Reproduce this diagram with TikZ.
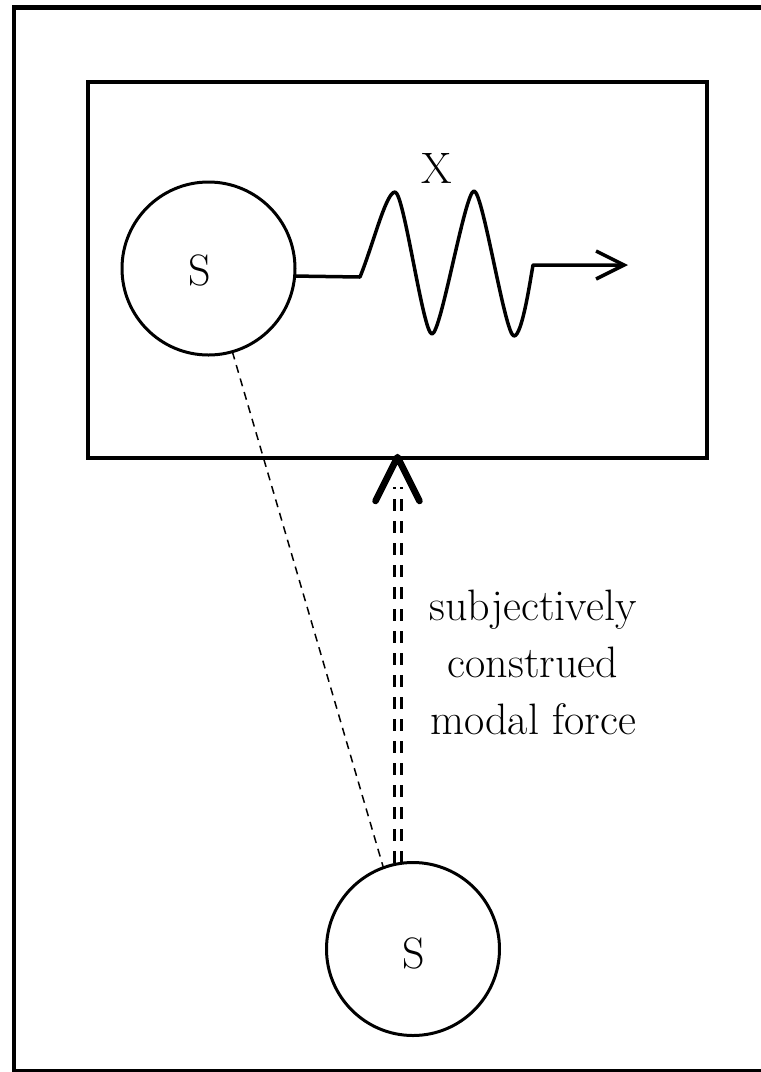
\documentclass[tikz,border=0pt]{standalone}
\usetikzlibrary{arrows.meta,calc}
\begin{document}
\begin{tikzpicture}[x=1pt,y=-1pt,
  frame/.style={line width=4.5pt},
  boxstyle/.style={draw,line width=4pt,minimum width=619pt,minimum height=376pt,inner sep=0pt,outer sep=0pt},
  circ/.style={circle,draw,line width=3pt,minimum size=173pt,inner sep=0pt,outer sep=0pt},
  lbl/.style={inner sep=0pt,font=\fontsize{44}{57}\selectfont},
  wave/.style={line width=3.5pt,line join=round},
  thindash/.style={line width=1.5pt,dash pattern=on 8pt off 6pt},
  dbldash/.style={line width=3pt,dash pattern=on 12pt off 10pt},
  chevron/.style={line width=6.5pt,line join=round,line cap=round}]
\clip (0,0) rectangle (761,1072);
\draw[frame] (14,7.5) rectangle (800,1071.5);
\node[boxstyle] (box) at (397.5,270) {};
\node[circ] (s1) at (208.5,268.5) {};
\node[lbl] (s1l) at (200,270) {S};
\node[circ] (s2) at (413,949) {};
\node[lbl] (s2l) at (414,953) {S};
\node[lbl] (x) at (437,168) {X};
\node[lbl,align=center] (txt) at (533,662) {subjectively\\construed\\modal force};
% wave
\coordinate (w0) at (360,277);
\coordinate (p1) at (395,192);
\coordinate (t1) at (432,334);
\coordinate (p2) at (474,191);
\coordinate (t2) at (514,336);
\coordinate (w5) at (533,265);
\coordinate (wend) at (628,265);
\draw[wave,-{Straight Barb[length=28pt,width=28pt]}] (s1.-5) -- (w0)
  .. controls (373,245) and (386,192) .. (p1)
  .. controls (404,192) and (423,334) .. (t1)
  .. controls (441,334) and (465,191) .. (p2)
  .. controls (483,191) and (505,336) .. (t2)
  .. controls (522,336) and (530,282) .. (w5) -- (wend);
% thin dashed line
\draw[thindash] (s1.-74) -- (s2.110);
% double dashed arrow
\coordinate (tip) at ($(box.south)+(0,-1)$);
\draw[dbldash] ($(s2.north -| box.south)+(-3.5,0)$) -- ($(tip)+(-3.5,30)$);
\draw[dbldash] ($(s2.north -| box.south)+(3.5,0)$) -- ($(tip)+(3.5,30)$);
\draw[chevron] ($(tip)+(-22,44)$) -- (tip) -- ($(tip)+(22,44)$);
\end{tikzpicture}
\end{document}
